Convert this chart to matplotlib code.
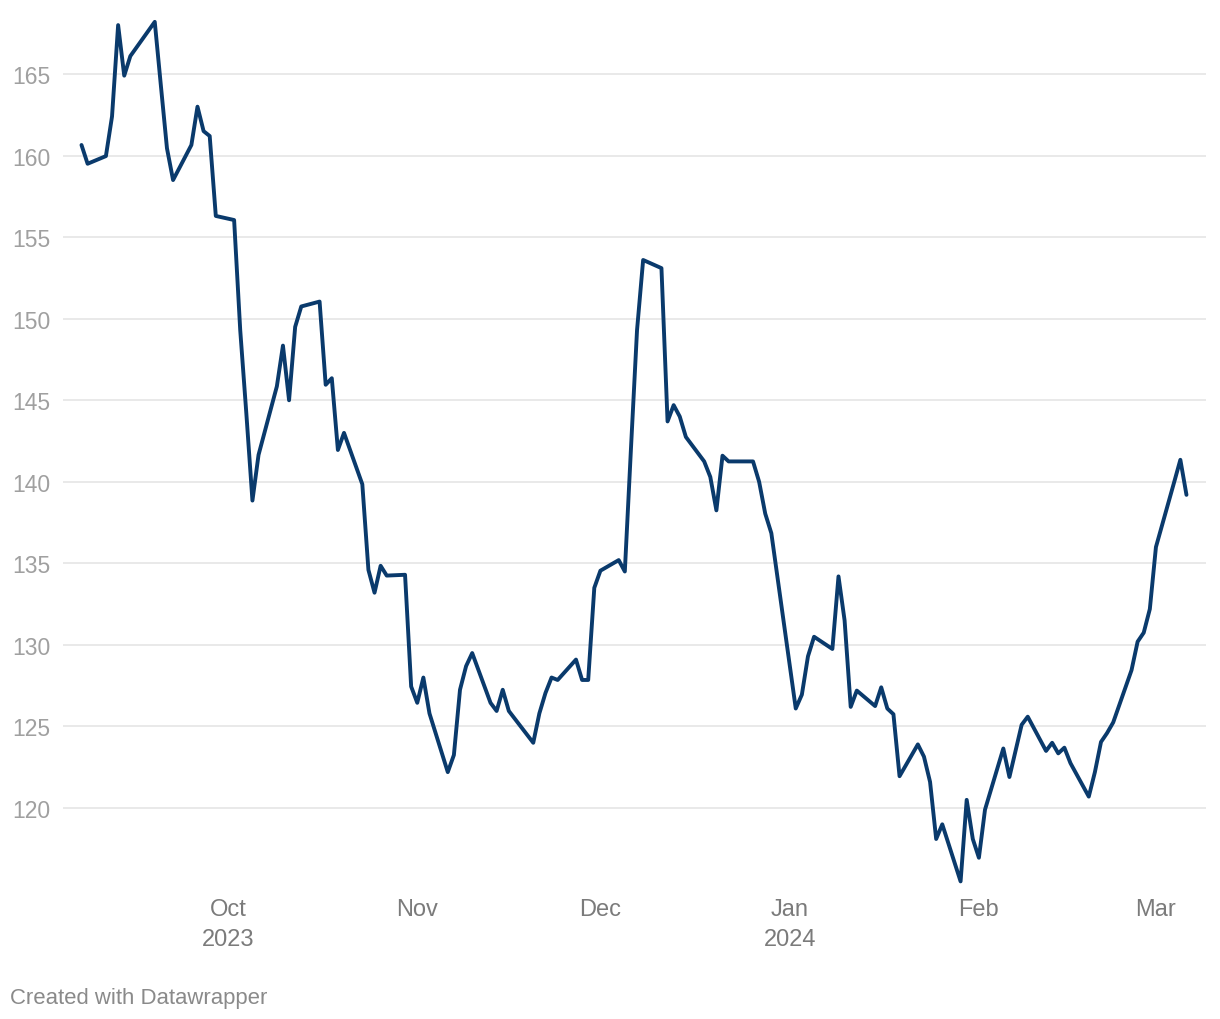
import pandas as pd
import matplotlib
matplotlib.use("Agg")
import matplotlib.pyplot as plt

# Data
dates = [
    "2023-09-07", "2023-09-08", "2023-09-11", "2023-09-12", "2023-09-13", "2023-09-14",
    "2023-09-15", "2023-09-19", "2023-09-20", "2023-09-21", "2023-09-22", "2023-09-25",
    "2023-09-26", "2023-09-27", "2023-09-28", "2023-09-29", "2023-10-02", "2023-10-03",
    "2023-10-04", "2023-10-05", "2023-10-06", "2023-10-09", "2023-10-10", "2023-10-11",
    "2023-10-12", "2023-10-13", "2023-10-16", "2023-10-17", "2023-10-18", "2023-10-19",
    "2023-10-20", "2023-10-23", "2023-10-24", "2023-10-25", "2023-10-26", "2023-10-27",
    "2023-10-30", "2023-10-31", "2023-11-01", "2023-11-02", "2023-11-03", "2023-11-06",
    "2023-11-07", "2023-11-08", "2023-11-09", "2023-11-10", "2023-11-13", "2023-11-14",
    "2023-11-15", "2023-11-16", "2023-11-20", "2023-11-21", "2023-11-22", "2023-11-23",
    "2023-11-24", "2023-11-27", "2023-11-28", "2023-11-29", "2023-11-30", "2023-12-01",
    "2023-12-04", "2023-12-05", "2023-12-06", "2023-12-07", "2023-12-08", "2023-12-11",
    "2023-12-12", "2023-12-13", "2023-12-14", "2023-12-15", "2023-12-18", "2023-12-19",
    "2023-12-20", "2023-12-21", "2023-12-22", "2023-12-26", "2023-12-27", "2023-12-28",
    "2023-12-29", "2024-01-02", "2024-01-03", "2024-01-04", "2024-01-05", "2024-01-08",
    "2024-01-09", "2024-01-10", "2024-01-11", "2024-01-12", "2024-01-15", "2024-01-16",
    "2024-01-17", "2024-01-18", "2024-01-19", "2024-01-22", "2024-01-23", "2024-01-24",
    "2024-01-25", "2024-01-26", "2024-01-29", "2024-01-30", "2024-01-31", "2024-02-01",
    "2024-02-02", "2024-02-05", "2024-02-06", "2024-02-08", "2024-02-09", "2024-02-12",
    "2024-02-13", "2024-02-14", "2024-02-15", "2024-02-16", "2024-02-19", "2024-02-20",
    "2024-02-21", "2024-02-22", "2024-02-23", "2024-02-26", "2024-02-27", "2024-02-28",
    "2024-02-29", "2024-03-01", "2024-03-04", "2024-03-05", "2024-03-06",
]
values = [
    160.65, 159.5, 159.97, 162.4, 168.0, 164.9,
    166.1, 168.2, 164.3, 160.45, 158.5, 160.65,
    163.0, 161.5, 161.2, 156.3, 156.05, 149.3,
    144.2, 138.85, 141.65, 145.85, 148.35, 145.0,
    149.5, 150.75, 151.05, 145.95, 146.35, 141.95,
    143.0, 139.85, 134.6, 133.2, 134.85, 134.25,
    134.3, 127.45, 126.45, 128.0, 125.8, 122.2,
    123.25, 127.25, 128.7, 129.5, 126.45, 125.95,
    127.25, 125.95, 124.0, 125.8, 127.05, 128.0,
    127.85, 129.1, 127.85, 127.85, 133.5, 134.55,
    135.2, 134.5, 142.0, 149.3, 153.6, 153.1,
    143.7, 144.7, 144.0, 142.75, 141.25, 140.3,
    138.25, 141.6, 141.25, 141.25, 140.0, 138.05,
    136.85, 126.1, 126.95, 129.3, 130.5, 129.75,
    134.2, 131.5, 126.2, 127.2, 126.25, 127.4,
    126.1, 125.75, 121.95, 123.9, 123.15, 121.6,
    118.1, 119.0, 115.5, 120.5, 118.1, 116.95,
    119.9, 123.65, 121.9, 125.1, 125.6, 123.5,
    124.0, 123.35, 123.7, 122.75, 120.7, 122.2,
    124.05, 124.6, 125.25, 128.45, 130.2, 130.75,
    132.2, 136.0, 140.0, 141.35, 139.2,
]

tick_dates = ["2023-10-01", "2023-11-01", "2023-12-01", "2024-01-01", "2024-02-01", "2024-03-01"]
tick_labels = ["Oct\n2023", "Nov", "Dec", "Jan\n2024", "Feb", "Mar"]
y_ticks = [120, 125, 130, 135, 140, 145, 150, 155, 160, 165]

plt.rcParams['font.family'] = ['Liberation Sans', 'DejaVu Sans']

fig = plt.figure(figsize=(12.2, 10.2), dpi=100)
ax = fig.add_axes([63 / 1220, 134 / 1020, (1206 - 63) / 1220, 870 / 1020])

x = pd.to_datetime(dates)
ax.plot(x, values, color='#0a3a6c', lw=2.8, solid_joinstyle='round', solid_capstyle='round')

oct1 = pd.Timestamp("2023-10-01")
ax.set_xlim(oct1 - pd.Timedelta(days=27.03), oct1 + pd.Timedelta(days=160.2))
ax.set_ylim(115.28, 168.62)

ax.set_yticks(y_ticks)
ax.set_yticklabels([str(v) for v in y_ticks])
ax.set_xticks(pd.to_datetime(tick_dates))
ax.set_xticklabels(tick_labels, linespacing=1.45)

ax.yaxis.grid(True, color='#e3e3e3', lw=1.1)
ax.xaxis.grid(False)
ax.set_axisbelow(True)
for s in ax.spines.values():
    s.set_visible(False)

ax.tick_params(axis='y', length=0, pad=9.0, labelsize=16.5, labelcolor='#a0a0a0')
ax.tick_params(axis='x', length=0, pad=9.5, labelsize=17, labelcolor='#7b7b7b')

fig.text(10 / 1220, 1 - 999 / 1020, "Created with Datawrapper", ha='left', va='center',
         fontsize=15.9, color='#8a8a8a')

fig.savefig("out.png", dpi=100)
